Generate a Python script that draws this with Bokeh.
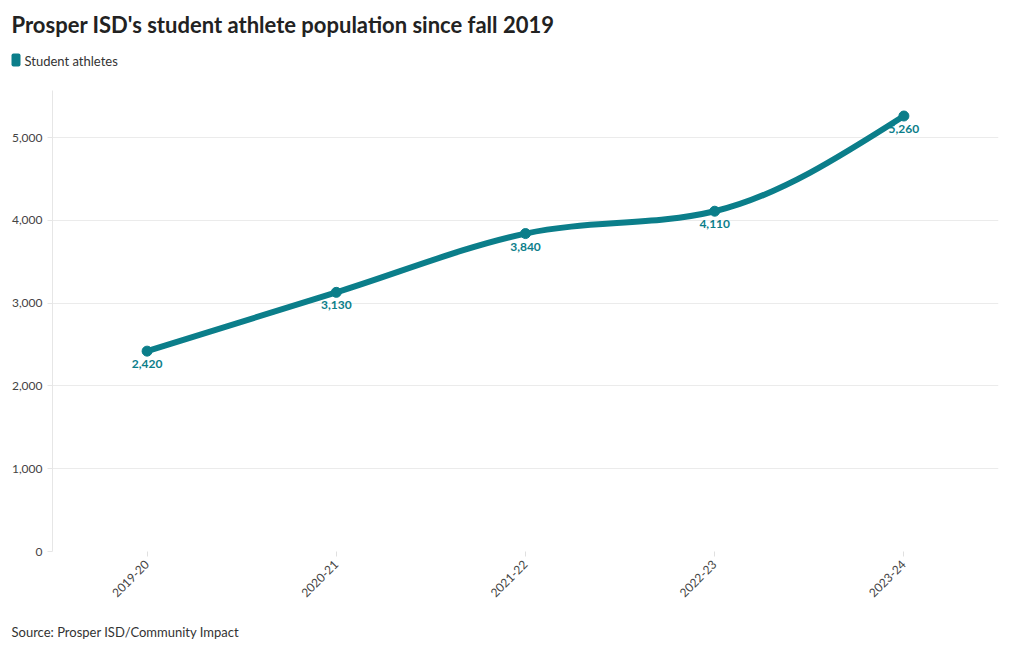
import numpy as np
from bokeh.plotting import figure
from bokeh.layouts import column
from bokeh.models import (Label, BoxAnnotation, FixedTicker, NumeralTickFormatter,
                          ColumnDataSource, Range1d)
from bokeh.embed import file_html
from bokeh.resources import INLINE
from bokeh.core.properties import value

# ---- data ----
seasons = ["2019-20", "2020-21", "2021-22", "2022-23", "2023-24"]
athletes = [2420, 3130, 3840, 4110, 5260]
labels = ["2,420", "3,130", "3,840", "4,110", "5,260"]
y_ticks = [0, 1000, 2000, 3000, 4000, 5000]

title_text = "Prosper ISD's student athlete population since fall 2019"
legend_text = "Student athletes"
source_text = "Source: Prosper ISD/Community Impact"

TEAL = "#0b7e8a"
FONT = "Lato"
W = 1016
HEAD_H, MAIN_H, FOOT_H = 80, 536, 30


def blank(h):
    f = figure(width=W, height=h, output_backend="svg", toolbar_location=None,
               x_axis_location=None, y_axis_location=None,
               x_range=Range1d(0, W), y_range=Range1d(0, h), min_border=0)
    f.outline_line_color = None
    f.grid.grid_line_color = None
    f.frame_align = False
    return f


# ---- header ----
head = blank(HEAD_H)
head.add_layout(Label(x=11, y=HEAD_H - 24, x_units="screen", y_units="screen",
                      text=title_text, text_font=FONT, text_font_size="22px",
                      text_font_style="bold", text_color="#222222",
                      text_baseline="middle"))
head.add_layout(BoxAnnotation(left=11, right=20, top=HEAD_H - 53, bottom=HEAD_H - 66,
                              left_units="screen", right_units="screen",
                              top_units="screen", bottom_units="screen",
                              fill_color=TEAL, fill_alpha=1.0, line_color=None,
                              border_radius=2))
head.add_layout(Label(x=24, y=HEAD_H - 60, x_units="screen", y_units="screen",
                      text=legend_text, text_font=FONT, text_font_size="13px",
                      text_color="#333333", text_baseline="middle"))

# ---- main chart ----
p = figure(width=W, height=MAIN_H, output_backend="svg", toolbar_location=None,
           x_range=Range1d(-0.5, 4.5), y_range=Range1d(0, 5568),
           min_border_left=52, min_border_right=W - 998, min_border_top=90 - HEAD_H,
           min_border_bottom=HEAD_H + MAIN_H - 551)
p.outline_line_color = None
p.frame_align = False

# monotone-x curve (d3 style) built from the data as bezier segments
x = np.arange(len(athletes), dtype=float)
y = np.array(athletes, dtype=float)
s = np.diff(y) / np.diff(x)
t = np.zeros(len(y))
for i in range(1, len(y) - 1):
    if s[i - 1] * s[i] > 0:
        pp = (s[i - 1] + s[i]) / 2
        t[i] = np.sign(s[i - 1]) * 2 * min(abs(s[i - 1]), abs(s[i]), 0.5 * abs(pp))
t[0] = (3 * s[0] - t[1]) / 2
t[-1] = (3 * s[-1] - t[-2]) / 2
dx = np.diff(x)
bez = ColumnDataSource(dict(
    x0=x[:-1], y0=y[:-1], x1=x[1:], y1=y[1:],
    cx0=x[:-1] + dx / 3, cy0=y[:-1] + dx * t[:-1] / 3,
    cx1=x[1:] - dx / 3, cy1=y[1:] - dx * t[1:] / 3))
p.bezier(x0="x0", y0="y0", x1="x1", y1="y1", cx0="cx0", cy0="cy0",
         cx1="cx1", cy1="cy1", source=bez, line_color=TEAL, line_width=6,
         line_cap="round")

src = ColumnDataSource(dict(x=x, y=y, lab=labels))
p.scatter("x", "y", source=src, size=10, fill_color=TEAL, line_color=TEAL)
p.text("x", "y", text="lab", source=src, y_offset=13, text_align="center",
       text_baseline="middle", text_color=TEAL, text_font_size="12px",
       text_font_style="bold", text_font=value(FONT))

# axes
p.xaxis.ticker = FixedTicker(ticks=list(range(len(seasons))))
p.xaxis.major_label_overrides = {i: s_ for i, s_ in enumerate(seasons)}
p.xaxis.major_label_orientation = np.pi / 4
p.xaxis.axis_line_color = None
p.xaxis.major_tick_line_color = "#e0e0e0"
p.xaxis.major_tick_out = 5
p.xaxis.major_tick_in = 0
p.xaxis.minor_tick_line_color = None
p.xaxis.major_label_text_font = FONT
p.xaxis.major_label_text_font_size = "12px"
p.xaxis.major_label_text_color = "#444444"
p.xaxis.major_label_standoff = 6

p.yaxis.ticker = FixedTicker(ticks=y_ticks)
p.yaxis.formatter = NumeralTickFormatter(format="0,0")
p.yaxis.axis_line_color = "#e6e6e6"
p.yaxis.major_tick_line_color = "#e6e6e6"
p.yaxis.major_tick_out = 5
p.yaxis.major_tick_in = 0
p.yaxis.minor_tick_line_color = None
p.yaxis.major_label_text_font = FONT
p.yaxis.major_label_text_font_size = "12px"
p.yaxis.major_label_text_color = "#444444"
p.yaxis.major_label_standoff = 5

p.xgrid.grid_line_color = None
p.ygrid.grid_line_color = "#ebebeb"

# ---- footer ----
foot = blank(FOOT_H)
foot.add_layout(Label(x=11, y=FOOT_H - (631 - HEAD_H - MAIN_H), x_units="screen",
                      y_units="screen", text=source_text, text_font=FONT,
                      text_font_size="13px", text_color="#333333",
                      text_baseline="middle"))

layout = column(head, p, foot, spacing=0)
open("out.html", "w").write(file_html(layout, INLINE))
